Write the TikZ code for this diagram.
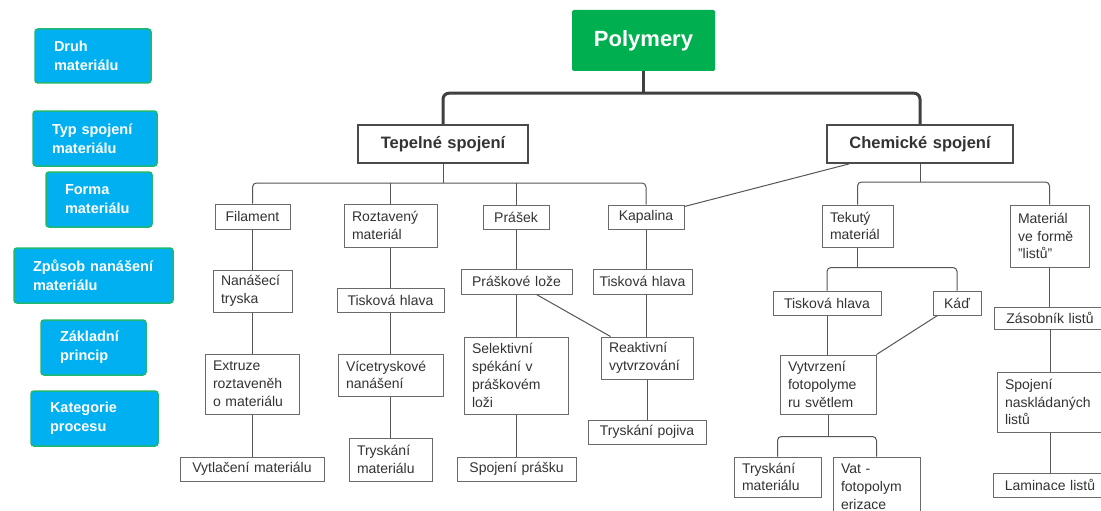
\documentclass[tikz,border=0pt]{standalone}
\usepackage{fontspec}
\setmainfont{Liberation Sans}
\definecolor{boxc}{HTML}{6A6A6A}
\definecolor{hc}{HTML}{4A4A4A}
\definecolor{txt}{HTML}{333333}
\definecolor{lgf}{HTML}{00B0F0}
\definecolor{lgb}{HTML}{1FB870}
\definecolor{rootc}{HTML}{00B050}
\definecolor{cc}{HTML}{555555}
\definecolor{tc}{HTML}{404040}
\newcommand\padx{9}
\newcommand\mkbox[7][box]{%
  \pgfmathsetmacro\mcx{(#3+#5)/2}%
  \pgfmathsetmacro\mcy{(#4+#6)/2}%
  \pgfmathsetmacro\mw{#5-#3}%
  \pgfmathsetmacro\mh{#6-#4}%
  \pgfmathsetmacro\mtw{#5-#3-2*\padx}%
  \node[#1, inner xsep=\padx pt, inner ysep=0pt, minimum width=\mw pt, minimum height=\mh pt, text width=\mtw pt] (#2) at (\mcx,\mcy) {#7};}
\tikzset{
  box/.style={draw=boxc, line width=1pt, fill=white, text=txt, font=\fontsize{14}{17.8}\selectfont, align=left},
  cbox/.style={box, align=center},
  hbox/.style={draw=hc, line width=1.8pt, fill=white, text=txt, font=\bfseries\fontsize{16.5}{20}\selectfont, align=center},
  leg/.style={draw=lgb, line width=1.5pt, fill=lgf, rounded corners=3pt, text=white, font=\bfseries\fontsize{14.5}{19}\selectfont, align=left},
  root/.style={fill=rootc, rounded corners=1.5pt, text=white, font=\bfseries\fontsize{22}{26}\selectfont, align=center},
  conn/.style={draw=cc, line width=1pt},
  thk/.style={draw=tc, line width=3pt},
}
\begin{document}
\begin{tikzpicture}[x=1pt,y=-1pt]
\useasboundingbox[fill=white] (0,0) rectangle (1101,511);
% legend
\renewcommand\padx{19}
\mkbox[leg]{l1}{35}{29}{151}{83}{Druh\\materiálu}
\mkbox[leg]{l2}{33}{111}{157}{166}{Typ spojení\\materiálu}
\mkbox[leg]{l3}{46}{172}{152}{227}{Forma\\materiálu}
\mkbox[leg]{l4}{14}{248}{173}{303}{Způsob nanášení\\materiálu}
\mkbox[leg]{l5}{41}{320}{146}{375}{Základní\\princip}
\mkbox[leg]{l6}{31}{391}{158}{446}{Kategorie\\procesu}
% top and single-line boxes (centred text)
\renewcommand\padx{4}
\mkbox[root]{poly}{572}{10}{715}{71}{Polymery}
\mkbox[hbox]{tep}{358}{125}{528}{163}{Tepelné spojení}
\mkbox[hbox]{chem}{827}{125}{1013}{163}{Chemické spojení}
\mkbox[cbox]{fil}{215}{204}{290}{229}{Filament}
\mkbox[cbox]{pra}{483}{205}{549}{229}{Prášek}
\mkbox[cbox]{kap}{608}{205}{684}{229}{Kapalina}
\mkbox[cbox]{th1}{337}{288}{444}{312}{Tisková hlava}
\mkbox[cbox]{prl}{461}{269}{572}{294}{Práškové lože}
\mkbox[cbox]{th2}{593}{269}{692}{294}{Tisková hlava}
\mkbox[cbox]{th3}{773}{291}{881}{315}{Tisková hlava}
\mkbox[cbox]{kad}{933}{291}{981}{315}{Káď}
\mkbox[cbox]{zas}{994}{307}{1106}{329}{Zásobník listů}
\mkbox[cbox]{vyl}{180}{457}{324}{481}{Vytlačení materiálu}
\mkbox[cbox]{spp}{457}{457}{576}{481}{Spojení prášku}
\mkbox[cbox]{trp}{588}{420}{706}{444}{Tryskání pojiva}
\mkbox[cbox]{lam}{993}{473}{1107}{497}{Laminace listů}
% multi-line boxes (left-aligned text)
\renewcommand\padx{8}
\mkbox[box]{roz}{344}{204}{437}{247}{Roztavený\\materiál}
\mkbox[box]{tek}{822}{205}{893}{247}{Tekutý\\materiál}
\mkbox[box]{lis}{1010}{205}{1089}{267}{Materiál\\ve formě\\"listů"}
\mkbox[box]{nan}{213}{270}{292}{312}{Nanášecí\\tryska}
\mkbox[box]{ext}{205}{354}{299}{414}{Extruze\\roztaveněh\\o materiálu}
\mkbox[box]{vic}{338}{354}{443}{396}{Vícetryskové\\nanášení}
\mkbox[box]{sel}{464}{337}{568}{414}{Selektivní\\spékání v\\práškovém\\loži}
\mkbox[box]{rea}{601}{337}{693}{379}{Reaktivní\\vytvrzování}
\mkbox[box]{vyt}{780}{355}{876}{414}{Vytvrzení\\fotopolyme\\ru světlem}
\mkbox[box]{spn}{997}{372}{1103}{432}{Spojení\\naskládaných\\listů}
\mkbox[box]{trm}{349}{438}{432}{481}{Tryskání\\materiálu}
\mkbox[box]{trm2}{734}{457}{821}{497}{Tryskání\\materiálu}
\mkbox[box]{vat}{833}{457}{920}{516}{Vat -\\fotopolym\\erizace}
% thick connectors
\draw[thk] (poly.south) -- ++(0,22) coordinate (pj);
\draw[thk, rounded corners=6pt] (tep.north) |- (pj) -| (chem.north);
% Tepelne bus
\coordinate (tb) at (443,183);
\draw[conn] (tep.south) -- (tb);
\draw[conn, rounded corners=4pt] (fil.north) |- (tb) -| (kap.north);
\draw[conn] (roz.north) -- (roz.north |- tb);
\draw[conn] (pra.north) -- (pra.north |- tb);
\draw[conn] ([xshift=23pt]chem.south west) -- ([yshift=-2pt]kap.north east);
% columns
\draw[conn] (fil.south) -- (fil.south |- nan.north);
\draw[conn] (nan.south) -- (nan.south |- ext.north);
\draw[conn] (ext.south) -- (ext.south |- vyl.north);
\draw[conn] (roz.south) -- (roz.south |- th1.north);
\draw[conn] (th1.south) -- (th1.south |- vic.north);
\draw[conn] (vic.south) -- (vic.south |- trm.north);
\draw[conn] (pra.south) -- (pra.south |- prl.north);
\draw[conn] (prl.south) -- (prl.south |- sel.north);
\draw[conn] (sel.south) -- (sel.south |- spp.north);
\draw[conn] ([xshift=20pt]prl.south) -- ([xshift=10pt]rea.north west);
\draw[conn] (kap.south) -- (kap.south |- th2.north);
\draw[conn] (th2.south -| kap.south) -- (kap.south |- rea.north);
\draw[conn] (rea.south) -- (rea.south |- trp.north);
% Chemicke bus
\coordinate (cb) at (920,182);
\draw[conn] (chem.south) -- (cb);
\draw[conn, rounded corners=4pt] (tek.north) |- (cb) -| (lis.north);
\draw[conn] (tek.south) -- ++(0,20) coordinate (kb);
\draw[conn, rounded corners=4pt] (th3.north) |- (kb) -| (kad.north);
\draw[conn] (th3.south) -- (th3.south |- vyt.north);
\draw[conn] ([xshift=5pt]kad.south west) -- (vyt.north east);
\draw[conn] (vyt.south) -- ++(0,22) coordinate (vb);
\draw[conn, rounded corners=4pt] (trm2.north) |- (vb) -| (vat.north);
\draw[conn] (lis.south) -- (lis.south |- zas.north);
\draw[conn] (zas.south) -- (zas.south |- spn.north);
\draw[conn] (spn.south) -- (spn.south |- lam.north);
\end{tikzpicture}
\end{document}
